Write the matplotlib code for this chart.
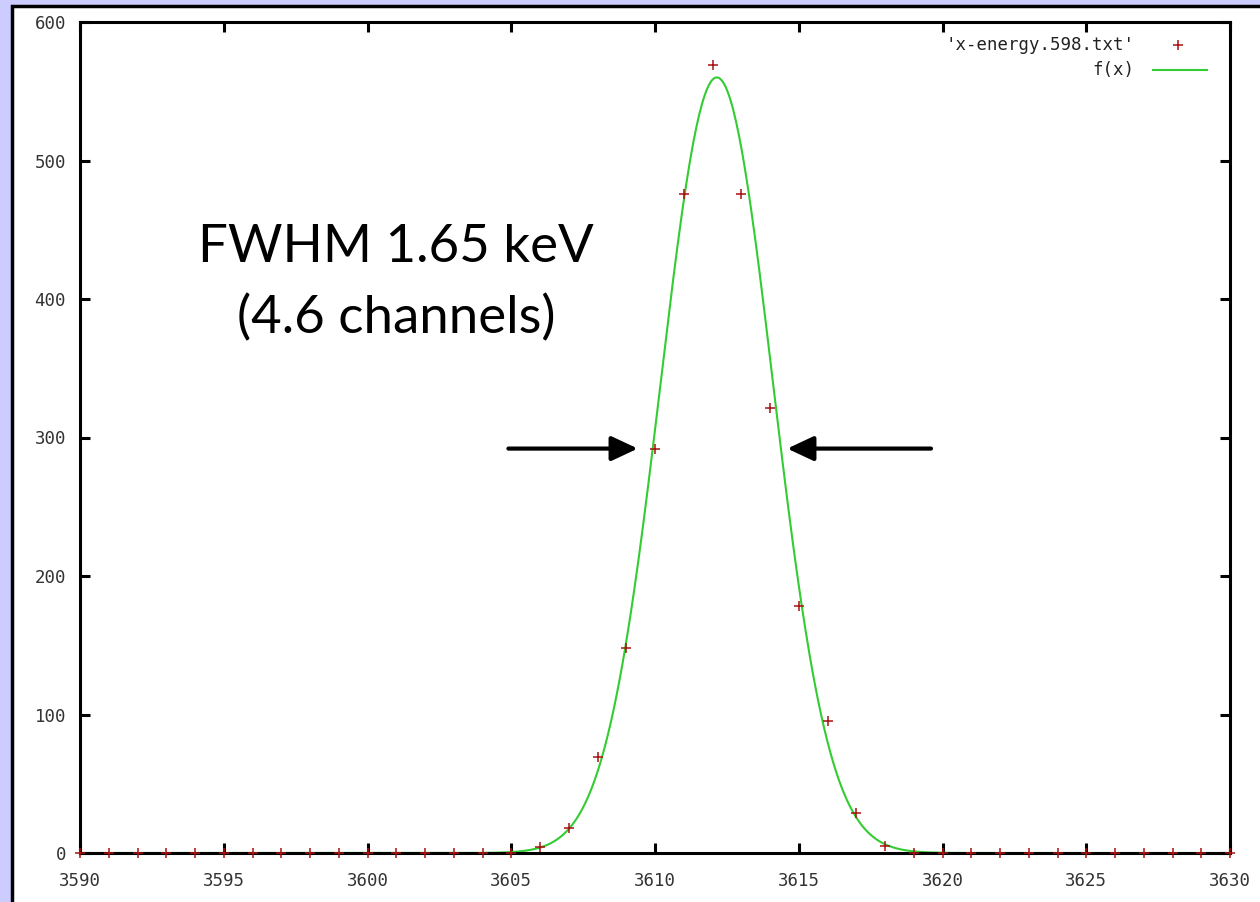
import matplotlib.pyplot as plt
import matplotlib.patches as mpatches
import numpy as np

# canales y cuentas medidas ('x-energy.598.txt')
canales = np.arange(3590, 3631)
cuentas = np.zeros(len(canales))
pico_x = [3606, 3607, 3608, 3609, 3610, 3611, 3612, 3613, 3614, 3615, 3616, 3617, 3618]
pico_y = [4, 18, 69, 148, 292, 476, 569, 476, 321, 178, 95, 29, 5]
for cx, cy in zip(pico_x, pico_y):
    cuentas[canales == cx] = cy

# parametros del ajuste gaussiano f(x)
amplitud = 560.0
centro = 3612.15
fwhm_canales = 4.6
sigma = fwhm_canales / 2.3548

x_fit = np.linspace(3590, 3630, 800)
y_fit = amplitud * np.exp(-(x_fit - centro) ** 2 / (2 * sigma ** 2))

# flechas de la anchura a media altura
flecha_izq = (3604.9, 3609.4)
flecha_der = (3619.6, 3614.6)
flecha_y = 292

fig = plt.figure(figsize=(12.6, 9.02), dpi=100)
fig.patch.set_facecolor('#ccccff')
fig.patches.append(mpatches.Rectangle((12 / 1260, -0.05), 1.1, 1 - 6 / 902 + 0.05,
                                      transform=fig.transFigure, facecolor='white',
                                      edgecolor='black', linewidth=2.5, zorder=-5))

ax = fig.add_axes([80 / 1260, 49 / 902, 1150 / 1260, 831 / 902])
ax.set_facecolor('white')

ax.plot(x_fit, y_fit, color='#33cc33', linewidth=1.5, zorder=2)
ax.plot(canales, cuentas, linestyle='none', marker='+', markersize=7,
        markeredgewidth=1.1, color='#aa1111', clip_on=False, zorder=4)

ax.set_xlim(3590, 3630)
ax.set_ylim(0, 600)
ax.set_xticks(np.arange(3590, 3631, 5))
ax.set_yticks(np.arange(0, 601, 100))

for s in ax.spines.values():
    s.set_linewidth(2.2)
ax.tick_params(direction='in', top=True, right=True, length=7, width=2.2,
               labelsize=12.5, labelcolor='#333333')
ax.tick_params(axis='x', pad=14)
ax.tick_params(axis='y', pad=10)
for lab in ax.get_xticklabels() + ax.get_yticklabels():
    lab.set_family('DejaVu Sans Mono')

# leyenda al estilo gnuplot
ax.text(0.917, 0.972, "'x-energy.598.txt'", transform=ax.transAxes, ha='right',
        va='center', family='DejaVu Sans Mono', fontsize=12.5, color='#222222')
ax.text(0.917, 0.942, "f(x)", transform=ax.transAxes, ha='right',
        va='center', family='DejaVu Sans Mono', fontsize=12.5, color='#222222')
ax.plot([0.955], [0.972], transform=ax.transAxes, marker='+', markersize=7,
        markeredgewidth=1.1, color='#aa1111', linestyle='none')
ax.plot([0.933, 0.980], [0.942, 0.942], transform=ax.transAxes,
        color='#33cc33', linewidth=1.5)

ax.text(3601.0, 437, 'FWHM 1.65 keV', ha='center', va='center',
        family='Lato', fontweight='normal', fontsize=38, color='black')
ax.text(3601.0, 386, '(4.6 channels)', ha='center', va='center',
        family='Lato', fontweight='normal', fontsize=38, color='black')

arrowprops = dict(arrowstyle='-|>,head_length=1.6,head_width=0.75', color='black',
                  linewidth=3, shrinkA=0, shrinkB=0)
ax.annotate('', xy=(flecha_izq[1], flecha_y), xytext=(flecha_izq[0], flecha_y),
            arrowprops=arrowprops)
ax.annotate('', xy=(flecha_der[1], flecha_y), xytext=(flecha_der[0], flecha_y),
            arrowprops=arrowprops)

fig.savefig('out.png', dpi=100, facecolor=fig.get_facecolor())
